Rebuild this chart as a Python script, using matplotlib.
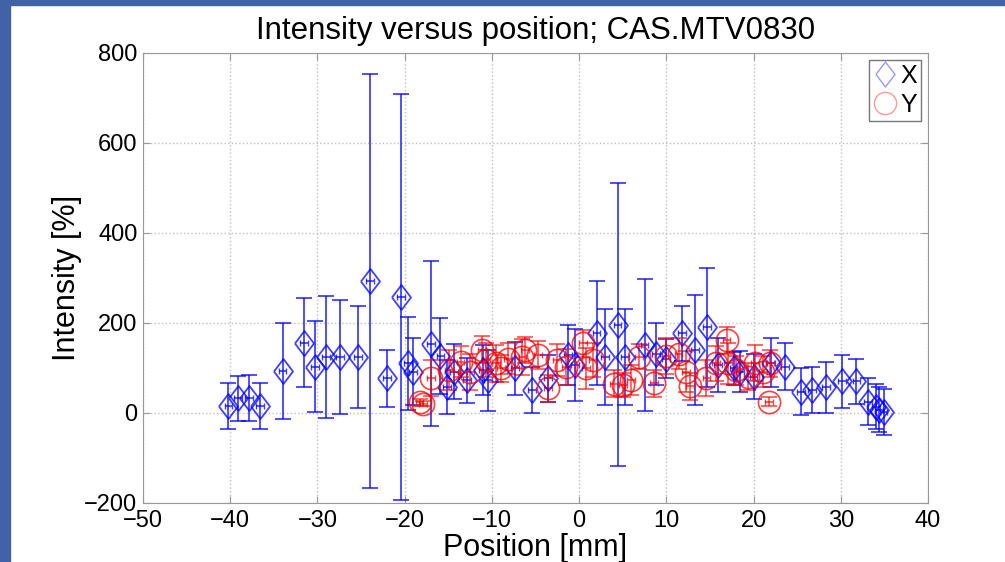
import matplotlib.pyplot as plt
import numpy as np
from matplotlib.lines import Line2D
from matplotlib.patches import Rectangle

plt.rcParams['font.family'] = ['Liberation Sans', 'DejaVu Sans']

# X profile (blue diamonds)
x_pos = [-40.2, -39.1, -37.8, -36.6, -34.0, -31.5, -30.3, -29.0, -27.4, -25.4,
         -24.0, -22.0, -20.4, -19.6, -19.0, -17.0, -15.9, -15.1, -14.3, -12.9,
         -11.0, -10.4, -7.4, -5.4, -3.6, -1.3, -0.5, 2.0, 3.0, 4.4,
         5.3, 7.5, 8.8, 10.0, 11.8, 13.3, 14.7, 15.9, 17.7, 18.4,
         20.0, 22.0, 23.6, 25.4, 26.7, 28.3, 30.1, 31.8, 33.1, 34.0,
         34.4, 34.9]
x_int = [16, 33, 33, 16, 94, 156, 103, 124, 124, 124,
         294, 77, 257, 110, 92, 154, 127, 58, 92, 73,
         95, 73, 99, 52, 77, 129, 107, 178, 125, 196,
         125, 151, 132, 121, 177, 140, 190, 107, 99, 92,
         80, 112, 103, 47, 51, 57, 70, 70, 25, 14,
         7, 3]
x_err = [51, 50, 51, 51, 107, 99, 101, 135, 126, 113,
         460, 64, 451, 104, 75, 184, 85, 60, 62, 50,
         55, 68, 59, 51, 52, 67, 80, 115, 107, 314,
         107, 147, 69, 43, 61, 123, 132, 60, 37, 45,
         50, 54, 52, 52, 52, 57, 58, 50, 52, 50,
         50, 51]

# Y profile (red circles)
y_pos = [-18.3, -17.9, -17.0, -14.9, -13.6, -12.5, -11.1, -10.7, -9.5, -9.0,
         -8.2, -6.5, -6.2, -4.7, -3.6, -2.5, -1.5, 0.4, 0.8, 1.6,
         4.0, 5.0, 5.9, 6.9, 8.6, 10.0, 11.4, 12.3, 12.7, 14.6,
         15.7, 16.9, 17.1, 18.0, 19.4, 20.2, 21.1, 21.9, 21.8]
y_int = [24, 21, 78, 95, 114, 92, 140, 118, 110, 99,
         121, 125, 140, 129, 55, 118, 103, 155, 99, 118,
         65, 62, 73, 125, 66, 127, 132, 92, 59, 77,
         110, 162, 110, 95, 81, 110, 92, 110, 25]
y_err = [8, 6, 40, 45, 35, 40, 30, 38, 42, 30,
         35, 40, 28, 32, 30, 36, 40, 30, 45, 38,
         30, 26, 34, 28, 30, 40, 35, 45, 30, 40,
         38, 30, 45, 32, 30, 40, 35, 30, 10]

diamond = [(-0.76, 0), (0, 1), (0.76, 0), (0, -1), (-0.76, 0)]

fig = plt.figure(figsize=(10.05, 5.62), dpi=100)
fig.patches.append(Rectangle((0, 0), 0.01, 1, transform=fig.transFigure,
                             color='#4262a8', zorder=-10))
fig.patches.append(Rectangle((0, 0.991), 1, 0.009, transform=fig.transFigure,
                             color='#4262a8', zorder=-10))

ax = fig.add_axes([0.1423, 0.105, 0.7811, 0.8007])

# vertical error bars with caps
ax.errorbar(x_pos, x_int, yerr=x_err, fmt='none', ecolor='blue', elinewidth=1.3,
            capsize=6, capthick=1.3, alpha=0.75, zorder=3)
ax.errorbar(y_pos, y_int, yerr=y_err, fmt='none', ecolor='red', elinewidth=1.1,
            capsize=6, capthick=1.1, alpha=0.75, zorder=4)
# small horizontal error inside markers
ax.errorbar(x_pos, x_int, xerr=0.45, fmt='none', ecolor='blue', elinewidth=1.2,
            capsize=2, alpha=0.75, zorder=3)
ax.errorbar(y_pos, y_int, xerr=0.45, fmt='none', ecolor='red', elinewidth=1.1,
            capsize=2, alpha=0.75, zorder=4)

ax.plot(x_pos, x_int, linestyle='none', marker=diamond, markersize=18,
        markerfacecolor='none', markeredgecolor='blue', markeredgewidth=1.3,
        alpha=0.75, zorder=5)
ax.plot(y_pos, y_int, linestyle='none', marker='o', markersize=16,
        markerfacecolor='none', markeredgecolor='red', markeredgewidth=1.2,
        alpha=0.75, zorder=6)

ax.set_xlim(-50, 40)
ax.set_ylim(-200, 800)
ax.set_xticks(np.arange(-50, 41, 10))
ax.set_yticks(np.arange(-200, 801, 200))
ax.grid(True, linestyle=':', color='#c0c0c0', linewidth=1)
ax.tick_params(direction='in', length=5, color='#999999', labelsize=17,
               top=True, right=True)
ax.tick_params(axis='x', pad=5)
ax.tick_params(axis='y', pad=4)
for s in ax.spines.values():
    s.set_color('#999999')

ax.set_title('Intensity versus position; CAS.MTV0830', fontsize=22.5, pad=10)
ax.set_xlabel('Position [mm]', fontsize=22, labelpad=1)
ax.set_ylabel('Intensity [%]', fontsize=22, labelpad=2)

handles = [Line2D([], [], linestyle='none', marker=diamond, markersize=18,
                  markerfacecolor='none', markeredgecolor='blue', alpha=0.4),
           Line2D([], [], linestyle='none', marker='o', markersize=16,
                  markerfacecolor='none', markeredgecolor='red', alpha=0.4)]
leg = ax.legend(handles, ['X', 'Y'], loc='upper right', fontsize=18,
                handlelength=1.0, handletextpad=0.1, borderpad=0.15,
                borderaxespad=0.3, labelspacing=0.2, fancybox=False,
                framealpha=1)
leg.get_frame().set_edgecolor('#777777')

fig.savefig('out.png', dpi=100)
